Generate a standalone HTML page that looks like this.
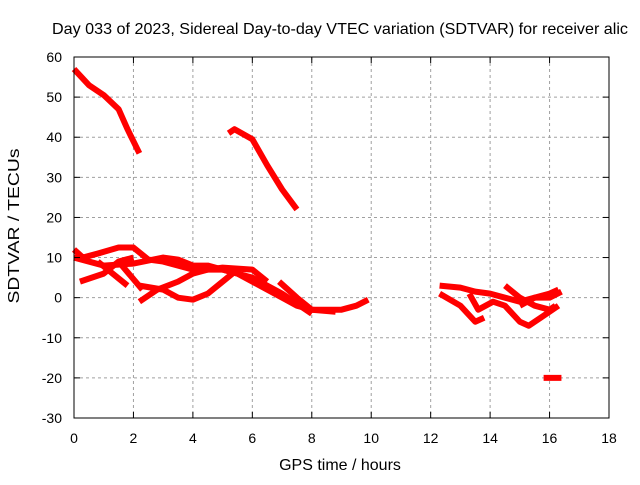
<!DOCTYPE html>
<html><head><meta charset="utf-8"><style>
body{margin:0;background:#fff;}
svg text{font-family:"Liberation Sans",sans-serif;font-size:14px;fill:#000;}
svg text.big{font-size:16px;}
</style></head><body>
<svg id="c" width="640" height="480" xmlns="http://www.w3.org/2000/svg">
<rect width="640" height="480" fill="#fff"/>
<g id="grid"></g><g id="series"></g><g id="axes"></g>
<text class="big" x="340" y="34" text-anchor="middle" textLength="576" lengthAdjust="spacingAndGlyphs">Day 033 of 2023, Sidereal Day-to-day VTEC variation (SDTVAR) for receiver alic</text>
<text class="big" x="340" y="470" text-anchor="middle">GPS time / hours</text>
<text class="big" transform="translate(19,226) rotate(-90)" text-anchor="middle" textLength="155" lengthAdjust="spacingAndGlyphs">SDTVAR / TECUs</text>
</svg>
<script>
const xTicks=[0,2,4,6,8,10,12,14,16,18];
const yTicks=[-30,-20,-10,0,10,20,30,40,50,60];
const s1=[[0,57],[0.5,53],[1,50.5],[1.5,47],[1.8,42],[2.2,36]];
const s2=[[5.2,41],[5.4,42],[6,39.5],[6.5,33],[7,27],[7.5,22]];
const s3=[[0,12],[0.3,10],[0.8,11],[1.5,12.5],[2,12.5],[2.5,9.5],[3,9],[3.5,8],[4,7],[5,7],[5.5,6],[6,4],[6.5,2],[7,0],[7.5,-2],[8,-3],[9,-3],[9.5,-2],[9.9,-0.5]];
const s4=[[0,10],[0.5,9],[1,8],[2,8.5],[3,10],[3.5,9.5],[4,8],[4.5,8],[5,7],[6,5],[7,1],[8,-4]];
const s5=[[0.2,4],[1,6],[1.5,9],[2,10]];
const s6=[[0.8,9],[1.8,3]];
const s7=[[1.5,9],[2.3,2]];
const s8=[[2.2,-1],[2.8,2],[3.5,4],[4,6],[4.5,7],[5,7.5],[6,7],[6.5,4]];
const s9=[[2.2,3],[3,2],[3.5,0],[4,-0.5],[4.5,1],[5,4],[5.5,7]];
const s10=[[6.9,4],[7.5,0],[8,-3],[8.8,-3.5]];
const s11=[[12.3,3],[13,2.5],[13.5,1.5],[14,1],[14.5,0],[15,-1],[15.5,0],[16,0],[16.4,1.5]];
const s12=[[12.3,1],[13,-2],[13.5,-6],[13.8,-5]];
const s13=[[13.3,1],[13.6,-3],[14.1,-1],[14.5,-2],[15,-6],[15.3,-7],[15.7,-5],[16.3,-2]];
const s14=[[14.5,3],[15,0],[15.5,-2],[16,-3],[16.2,-2]];
const s15=[[15,-2],[15.5,0],[16,1],[16.3,2]];
const s16=[[15.8,-20],[16.4,-20]];
const allSeries=[s1,s2,s3,s4,s5,s6,s7,s8,s9,s10,s11,s12,s13,s14,s15,s16];
const X0=74,X1=609,Y0=418,Y1=57;
function xs(h){return X0+(h-0)/18*(X1-X0);}
function ys(v){return Y0-(v+30)/90*(Y0-Y1);}
const NS="http://www.w3.org/2000/svg";
const grid=document.getElementById('grid'),axes=document.getElementById('axes'),ser=document.getElementById('series');
function mk(tag,attrs,parent){const e=document.createElementNS(NS,tag);for(const k in attrs)e.setAttribute(k,attrs[k]);parent.appendChild(e);return e;}
xTicks.forEach(t=>{const x=xs(t);
 if(t>0&&t<18){const l=mk('line',{x1:x,x2:x,y1:Y1,y2:Y0,stroke:'#a0a0a0','stroke-dasharray':'3,3'},grid);
 
 }
 const tx=mk('text',{x:x,y:Y0+25,'text-anchor':'middle'},axes);tx.textContent=t;
 
 
 mk('line',{x1:x,x2:x,y1:Y0,y2:Y0-6,stroke:'#000'},axes);mk('line',{x1:x,x2:x,y1:Y1,y2:Y1+6,stroke:'#000'},axes);});
yTicks.forEach(t=>{const y=ys(t);
 if(t>-30&&t<60){const l=mk('line',{x1:X0,x2:X1,y1:y,y2:y,stroke:'#a0a0a0','stroke-dasharray':'3,3'},grid);
 
 }
 const tx=mk('text',{x:X0-12,y:y+5,'text-anchor':'end'},axes);tx.textContent=t;
 
 
 mk('line',{x1:X0,x2:X0+6,y1:y,y2:y,stroke:'#000'},axes);mk('line',{x1:X1,x2:X1-6,y1:y,y2:y,stroke:'#000'},axes);});
const fr=mk('rect',{x:X0,y:Y1,width:X1-X0,height:Y0-Y1,fill:'none',stroke:'#000'},axes);


allSeries.forEach((s,i)=>{
 const p=mk('polyline',{points:s.map(d=>xs(d[0])+','+ys(d[1])).join(' '),fill:'none',stroke:'#f00','stroke-width':6,'stroke-linejoin':'round'},ser);
 
 
});
</script>
</body></html>
